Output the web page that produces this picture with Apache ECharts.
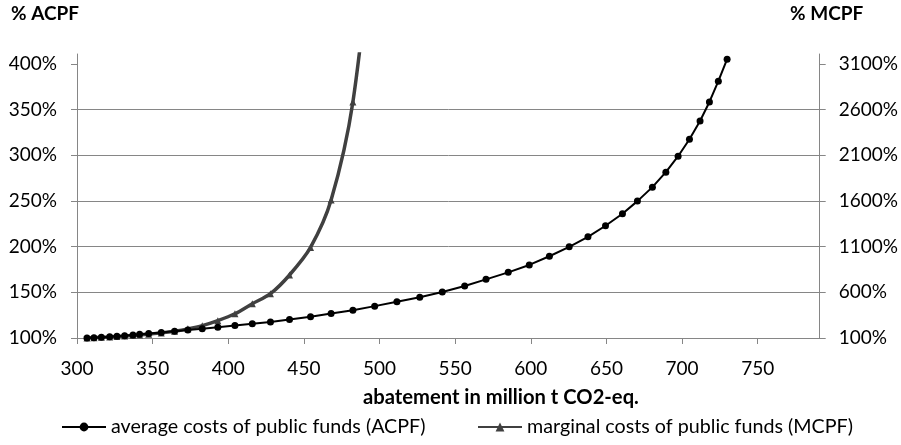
<!DOCTYPE html>
<html><head><meta charset="utf-8">
<script src="https://cdn.jsdelivr.net/npm/echarts@6/dist/echarts.min.js"></script>
<style>html,body{margin:0;padding:0;background:#fff}#c{width:901px;height:445px}</style>
</head><body><div id="c"></div>
<script>
// abatement in million t CO2-eq.
const abatement = [306.6, 311.2, 316.1, 321.6, 326.4, 331.5, 337.0, 341.4, 347.4, 355.7, 364.5, 373.3, 382.8, 393.1, 404.4, 415.9, 427.9, 440.5, 454.4, 468.0, 482.4, 496.8, 511.5, 526.6, 541.5, 556.3, 570.4, 585.1, 599.0, 612.3, 625.4, 637.8, 649.4, 660.6, 670.5, 680.4, 689.3, 697.4, 704.9, 711.9, 718.1, 724.0, 729.8];
// average costs of public funds (%)
const acpf = [100, 100.4, 100.9, 101.4, 102, 102.6, 103.3, 104, 104.8, 106, 107.3, 108.7, 110.2, 111.8, 113.7, 115.6, 117.6, 120.2, 123.3, 126.9, 130.5, 134.9, 139.7, 144.6, 150.4, 156.9, 164.2, 171.9, 180.0, 189.5, 199.8, 210.8, 222.9, 236.0, 249.9, 265.2, 281.6, 299.1, 317.7, 337.7, 358.5, 381.2, 405.3];
// marginal costs of public funds (%) - the curve leaves the chart after ~485
const mcpf = [100, 103, 107, 111, 116, 121, 127, 133, 142, 156, 175, 200, 235, 290, 365, 475, 585, 790, 1092, 1610, 2685, 4800];
const xTicks = [300, 350, 400, 450, 500, 550, 600, 650, 700, 750];
const leftTicks = [100, 150, 200, 250, 300, 350, 400];
const rightTicks = [100, 600, 1100, 1600, 2100, 2600, 3100];
const seriesNames = ['average costs of public funds (ACPF)', 'marginal costs of public funds (MCPF)'];

const FONT = 'Lato';
const AX = '#868686';
const FS = 19;
const txt = {fontFamily: FONT, fontSize: FS, color: '#000'};
const legTxt = {fontFamily: FONT, fontSize: 19.7, color: '#000'};
const bold = {fontFamily: FONT, fontSize: FS, fontWeight: 'bold', color: '#000'};

const chart = echarts.init(document.getElementById('c'), null, {renderer: 'canvas'});
chart.setOption({
  animation: false,
  backgroundColor: '#fff',
  grid: {left: 77, right: 80, top: 54, bottom: 107, containLabel: false},
  title: [
    {text: '% ACPF', left: 11, top: 4, padding: 0, textStyle: bold},
    {text: '% MCPF', left: 790, top: 4, padding: 0, textStyle: bold},
    {text: 'abatement in million t CO2-eq.', left: 363, top: 387, padding: 0, textStyle: {...bold, fontSize: 20.2}}
  ],
  legend: [
    {data: [seriesNames[0]], left: 61, top: 417, padding: 0, itemWidth: 44, itemHeight: 11, itemGap: 0, textStyle: legTxt},
    {data: [seriesNames[1]], left: 477, top: 417, padding: 0, itemWidth: 44, itemHeight: 11, itemGap: 0, textStyle: legTxt}
  ],
  xAxis: {
    type: 'value', min: 300, max: 791, interval: 50,
    axisLine: {show: true, onZero: false, lineStyle: {color: AX, width: 1}},
    axisTick: {show: true, customValues: xTicks, length: 6, lineStyle: {color: AX}},
    axisLabel: {customValues: xTicks, margin: 21, ...txt},
    splitLine: {show: false}
  },
  yAxis: [
    {
      type: 'value', position: 'left', min: 100, max: 411, interval: 50,
      axisLine: {show: true, lineStyle: {color: AX, width: 1}},
      axisTick: {show: true, customValues: leftTicks, length: 6, lineStyle: {color: AX}},
      axisLabel: {customValues: leftTicks, margin: 20, formatter: v => v + '%', ...txt},
      splitLine: {show: true, showMaxLine: false, lineStyle: {color: AX, width: 1}}
    },
    {
      type: 'value', position: 'right', min: 100, max: 3210,
      axisLine: {show: true, lineStyle: {color: AX, width: 1}},
      axisTick: {show: true, customValues: rightTicks, length: 6, lineStyle: {color: AX}},
      axisLabel: {customValues: rightTicks, margin: 19, formatter: v => v + '%', ...txt},
      splitLine: {show: false}
    }
  ],
  series: [
    {
      name: seriesNames[1], type: 'line', yAxisIndex: 1, smooth: 0.3,
      data: mcpf.map((v, i) => [abatement[i], v]),
      symbol: 'triangle', symbolSize: 7, showAllSymbol: true, clip: true,
      itemStyle: {color: '#404040'}, lineStyle: {color: '#404040', width: 3.5}, z: 2
    },
    {
      name: seriesNames[0], type: 'line', yAxisIndex: 0,
      data: acpf.map((v, i) => [abatement[i], v]),
      symbol: 'circle', symbolSize: 7, showAllSymbol: true, clip: true,
      itemStyle: {color: '#000'}, lineStyle: {color: '#000', width: 2}, z: 3
    }
  ]
});
</script>
</body></html>
